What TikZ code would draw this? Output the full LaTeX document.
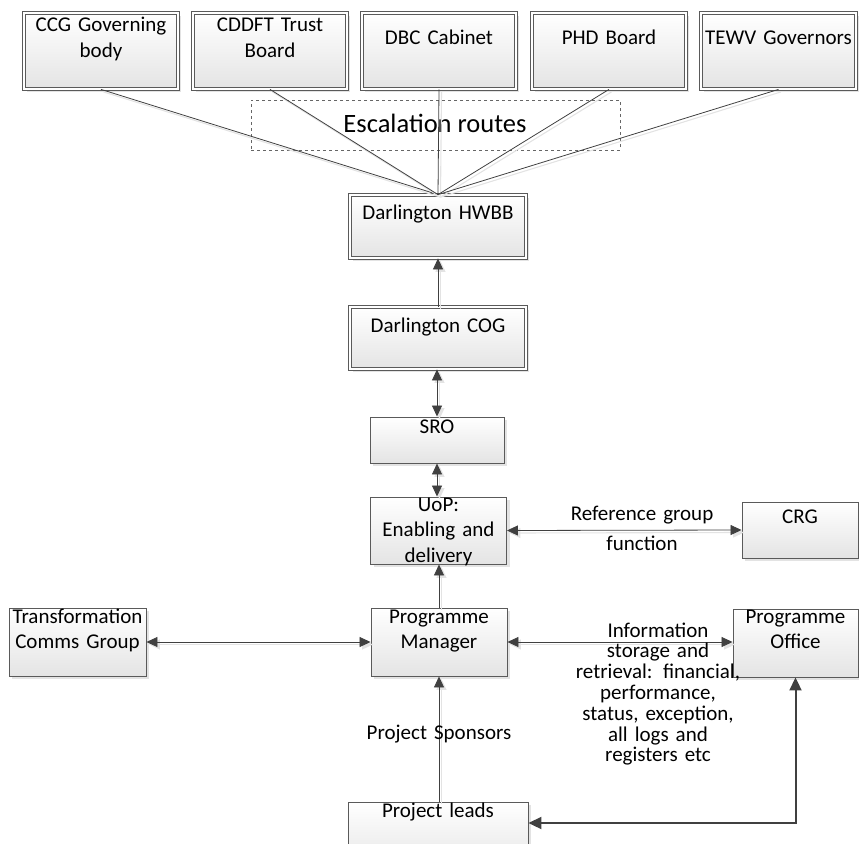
\documentclass[tikz,border=0pt]{standalone}
\usepackage{fontspec}
\setmainfont{Carlito}
\usetikzlibrary{arrows.meta,shadows}
\definecolor{edgecol}{HTML}{5A5A5A}
\definecolor{linecol}{HTML}{404040}
\definecolor{boxbot}{HTML}{E4E4E4}
\newcommand\fsmain{\fontsize{21}{25.5}\selectfont}
\newcommand\fsinfo{\fontsize{21}{20.8}\selectfont}
\newcommand\fsref{\fontsize{21}{30}\selectfont}
\newcommand\fsesc{\fontsize{26.5}{30}\selectfont}
\begin{document}
\begin{tikzpicture}[x=1pt,y=-1pt,
  boxbase/.style={draw=edgecol, line width=0.9pt, top color=white, bottom color=boxbot,
    general shadow={fill=gray!22, shadow xshift=3pt, shadow yshift=-3pt}, inner sep=0pt},
  sbox/.style={boxbase},
  dbox/.style={boxbase, double=white, double distance=2.4pt, line width=0.8pt},
  lbl/.style={anchor=base, align=center, font=\fsmain, inner sep=0pt, text width=170pt},
  conn/.style={draw=linecol, line width=0.8pt,
    preaction={draw=gray!22, line width=1.1pt, transform canvas={shift={(2.5pt,-2.5pt)}}}},
  tipa/.style={-{Triangle[length=11pt,width=10pt]}},
  tipb/.style={{Triangle[length=11pt,width=10pt]}-{Triangle[length=11pt,width=10pt]}},
  thick conn/.style={draw=linecol, line width=2pt,
    {Triangle[length=13pt,width=12pt]}-{Triangle[length=13pt,width=12pt]}},
  escbox/.style={draw=gray!80!black, dashed, line width=0.7pt, minimum width=369pt, minimum height=50pt, inner sep=0pt}
]
\useasboundingbox (0,0) rectangle (859,843);

% dashed escalation box
\node[escbox] (esc) at (435.5,125) {};
\node[anchor=base, font=\fsesc, inner sep=0pt] (esctext) at (435,132) {Escalation routes};

% top boxes
\node[dbox, minimum width=154pt, minimum height=76pt] (ccg) at (101,51) {};
\node[dbox, minimum width=154pt, minimum height=76pt] (cddft) at (270,51) {};
\node[dbox, minimum width=154pt, minimum height=76pt] (dbc) at (439,51) {};
\node[dbox, minimum width=154pt, minimum height=76pt] (phd) at (609,51) {};
\node[dbox, minimum width=155pt, minimum height=76pt] (tewv) at (778.5,51) {};

\node[dbox, minimum width=176pt, minimum height=63pt] (hwbb) at (438,226.5) {};
\node[dbox, minimum width=176pt, minimum height=62pt] (cog) at (438,338) {};

\node[sbox, minimum width=134pt, minimum height=46pt] (sro) at (437,440) {};
\node[sbox, minimum width=136pt, minimum height=67pt] (uop) at (438.5,530.5) {};
\node[sbox, minimum width=116pt, minimum height=56pt] (crg) at (800,530) {};
\node[sbox, minimum width=136pt, minimum height=68pt] (pm) at (439,642) {};
\node[sbox, minimum width=137pt, minimum height=68pt] (tcg) at (77.5,642) {};
\node[sbox, minimum width=125pt, minimum height=68pt] (po) at (795.5,643) {};
\node[sbox, minimum width=180pt, minimum height=70pt] (pl) at (438,837) {};

% connectors from top boxes
\foreach \n in {ccg,cddft,dbc,phd,tewv}
  \draw[conn] (\n.south) -- (hwbb.north);

\draw[conn, tipa] (cog.north) -- (hwbb.south);
\draw[conn, tipb] (sro.north |- cog.south) -- (sro.north);
\draw[conn, tipb] (sro.south) -- (sro.south |- uop.north);
\draw[conn, tipa] (pm.north) -- (pm.north |- uop.south);
\draw[conn, tipb] (tcg.east) -- (pm.west);
\draw[conn, tipb] (uop.east) -- (crg.west);
\draw[conn, tipb] (pm.east) -- (pm.east -| po.west);
\draw[conn, tipa] (pm.south |- pl.north) -- (pm.south);
\draw[thick conn] (po.south) |- ([yshift=14pt]pl.east);

% labels
\node[lbl] (ccgt) at (101,32) {CCG Governing\\body};
\node[lbl] (cddftt) at (270,32) {CDDFT Trust\\Board};
\node[lbl] (dbct) at (439,45) {DBC Cabinet};
\node[lbl] (phdt) at (609,45) {PHD Board};
\node[lbl] (tewvt) at (778.5,45) {TEWV Governors};
\node[lbl] (hwbbt) at (438,219) {Darlington HWBB};
\node[lbl] (cogt) at (438,332) {Darlington COG};
\node[lbl] (srot) at (437,433) {SRO};
\node[lbl] (uopt) at (438.5,511) {UoP:\\Enabling and\\delivery};
\node[lbl] (crgt) at (800,523) {CRG};
\node[lbl, font=\fsref] (reft) at (642,520) {Reference group\\function};
\node[lbl] (pmt) at (439,623) {Programme\\Manager};
\node[lbl] (tcgt) at (77.5,623) {Transformation\\Comms Group};
\node[lbl] (pot) at (795.5,623) {Programme\\Office};
\node[lbl, font=\fsinfo] (infot) at (658,637) {Information\\storage and\\retrieval: financial,\\performance,\\status, exception,\\all logs and\\registers etc};
\node[lbl] (spont) at (439,739) {Project Sponsors};
\node[lbl] (plt) at (438,817) {Project leads};
\end{tikzpicture}
\end{document}
